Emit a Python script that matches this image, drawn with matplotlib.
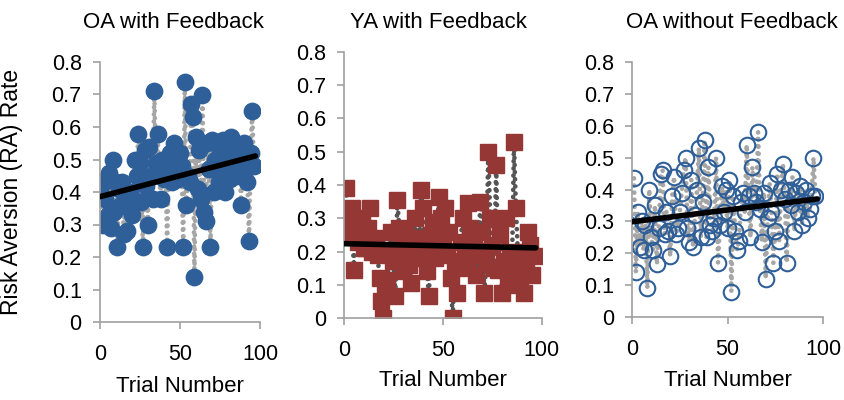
import matplotlib.pyplot as plt
import numpy as np

plt.rcParams['font.family'] = ['Liberation Sans', 'DejaVu Sans']

trials = np.arange(1, 97)

oa_fb = [0.42, 0.30, 0.38, 0.44, 0.33, 0.46, 0.29, 0.50,
         0.34, 0.43, 0.23, 0.41, 0.36, 0.43, 0.27, 0.39,
         0.28, 0.35, 0.40, 0.33, 0.38, 0.50, 0.45, 0.58,
         0.49, 0.37, 0.23, 0.53, 0.42, 0.30, 0.54, 0.45,
         0.38, 0.71, 0.49, 0.58, 0.46, 0.38, 0.50, 0.44,
         0.48, 0.23, 0.50, 0.52, 0.43, 0.55, 0.47, 0.50,
         0.44, 0.52, 0.48, 0.23, 0.74, 0.36, 0.45, 0.43,
         0.67, 0.63, 0.14, 0.57, 0.41, 0.53, 0.38, 0.70,
         0.34, 0.31, 0.55, 0.47, 0.23, 0.56, 0.40, 0.50,
         0.55, 0.43, 0.53, 0.47, 0.56, 0.40, 0.55, 0.52,
         0.44, 0.57, 0.49, 0.54, 0.45, 0.53, 0.52, 0.36,
         0.52, 0.55, 0.47, 0.43, 0.25, 0.52, 0.65, 0.48]

ya_fb = [0.39, 0.30, 0.26, 0.33, 0.145, 0.28, 0.23, 0.25,
         0.30, 0.21, 0.21, 0.27, 0.33, 0.20, 0.21, 0.24,
         0.19, 0.12, 0.05, 0.0, 0.09, 0.115, 0.20, 0.26,
         0.17, 0.065, 0.355, 0.27, 0.21, 0.14, 0.25, 0.20,
         0.16, 0.105, 0.22, 0.30, 0.24, 0.18, 0.385, 0.33,
         0.21, 0.14, 0.065, 0.25, 0.29, 0.18, 0.22, 0.365,
         0.30, 0.24, 0.33, 0.19, 0.26, 0.12, 0.0, 0.17,
         0.075, 0.15, 0.23, 0.30, 0.21, 0.16, 0.345, 0.27,
         0.20, 0.24, 0.13, 0.19, 0.35, 0.26, 0.075, 0.17,
         0.50, 0.30, 0.22, 0.15, 0.46, 0.145, 0.25, 0.075,
         0.17, 0.30, 0.10, 0.20, 0.15, 0.53, 0.33, 0.19,
         0.12, 0.20, 0.075, 0.15, 0.26, 0.22, 0.13, 0.185]

oa_nofb = [0.435, 0.14, 0.33, 0.22, 0.30, 0.21, 0.29, 0.09,
           0.40, 0.25, 0.21, 0.35, 0.165, 0.28, 0.45, 0.46,
           0.26, 0.33, 0.27, 0.19, 0.38, 0.44, 0.26, 0.28,
           0.33, 0.39, 0.46, 0.50, 0.28, 0.235, 0.43, 0.22,
           0.32, 0.40, 0.53, 0.25, 0.36, 0.555, 0.25, 0.47,
           0.29, 0.27, 0.31, 0.50, 0.17, 0.29, 0.41, 0.33,
           0.40, 0.28, 0.43, 0.08, 0.38, 0.27, 0.21, 0.24,
           0.36, 0.39, 0.33, 0.54, 0.38, 0.25, 0.47, 0.39,
           0.36, 0.58, 0.34, 0.235, 0.39, 0.12, 0.31, 0.42,
           0.33, 0.17, 0.27, 0.45, 0.24, 0.40, 0.48, 0.37,
           0.17, 0.40, 0.35, 0.44, 0.27, 0.39, 0.33, 0.41,
           0.29, 0.36, 0.40, 0.31, 0.34, 0.38, 0.50, 0.38]

titles = ['OA with Feedback', 'YA with Feedback', 'OA without Feedback']
blue = '#2f5f98'
red = '#953735'

fig = plt.figure(figsize=(8.45, 4), dpi=100)
boxes = [[0.118, 0.195, 0.190, 0.650],
         [0.407, 0.205, 0.234, 0.665],
         [0.748, 0.2075, 0.226, 0.6375]]
axes = [fig.add_axes(b) for b in boxes]

dot_style = dict(linestyle=(0, (0.01, 1.5)), dash_capstyle='round', lw=3.4, zorder=1)

# panel 1 - filled circles
ax = axes[0]
ax.plot(trials, oa_fb, color='#a6a6a6', **dot_style)
ax.plot(trials, oa_fb, 'o', ms=11.8, color=blue, zorder=2)
# panel 2 - squares
ax = axes[1]
ax.plot(trials, ya_fb, color='#555555', **dot_style)
ax.plot(trials, ya_fb, 's', ms=11.5, color=red, zorder=2)
# panel 3 - open circles
ax = axes[2]
ax.plot(trials, oa_nofb, color='#a6a6a6', **dot_style)
ax.plot(trials, oa_nofb, 'o', ms=11.2, mfc='none', mec=blue, mew=1.5, zorder=2)

title_x = [173 / 845, 438 / 845, 732 / 845]
xlab_pad = [8, 6, 7]

for ax, ys, t, tx, lp in zip(axes, [oa_fb, ya_fb, oa_nofb], titles, title_x, xlab_pad):
    k, b = np.polyfit(trials, ys, 1)
    xx = np.array([0, 97])
    ax.plot(xx, k * xx + b, color='black', lw=4, solid_capstyle='round', zorder=3)
    ax.set_xlim(0, 100)
    ax.set_ylim(0, 0.8)
    ax.set_xticks([0, 50, 100])
    ax.set_yticks(np.arange(0, 0.81, 0.1))
    ax.set_yticklabels(['0'] + ['%.1f' % v for v in np.arange(0.1, 0.81, 0.1)])
    for s in ['top', 'right']:
        ax.spines[s].set_visible(False)
    for s in ['left', 'bottom']:
        ax.spines[s].set_color('#a0a0a0')
        ax.spines[s].set_linewidth(1.2)
    ax.tick_params(colors='#a0a0a0', labelcolor='black', labelsize=15.5, length=5, width=1.2)
    ax.tick_params(axis='x', pad=11)
    ax.tick_params(axis='y', pad=8)
    fig.text(tx, 1 - 22 / 400, t, fontsize=16, ha='center', va='center')
    ax.set_xlabel('Trial Number', fontsize=16, labelpad=lp)
    ax.patch.set_alpha(0)

axes[0].set_ylabel('Risk Aversion (RA) Rate', fontsize=16.5)
axes[0].yaxis.set_label_coords(-(100 - 24) / 160, 0.5)

fig.savefig('out.png', dpi=100)
